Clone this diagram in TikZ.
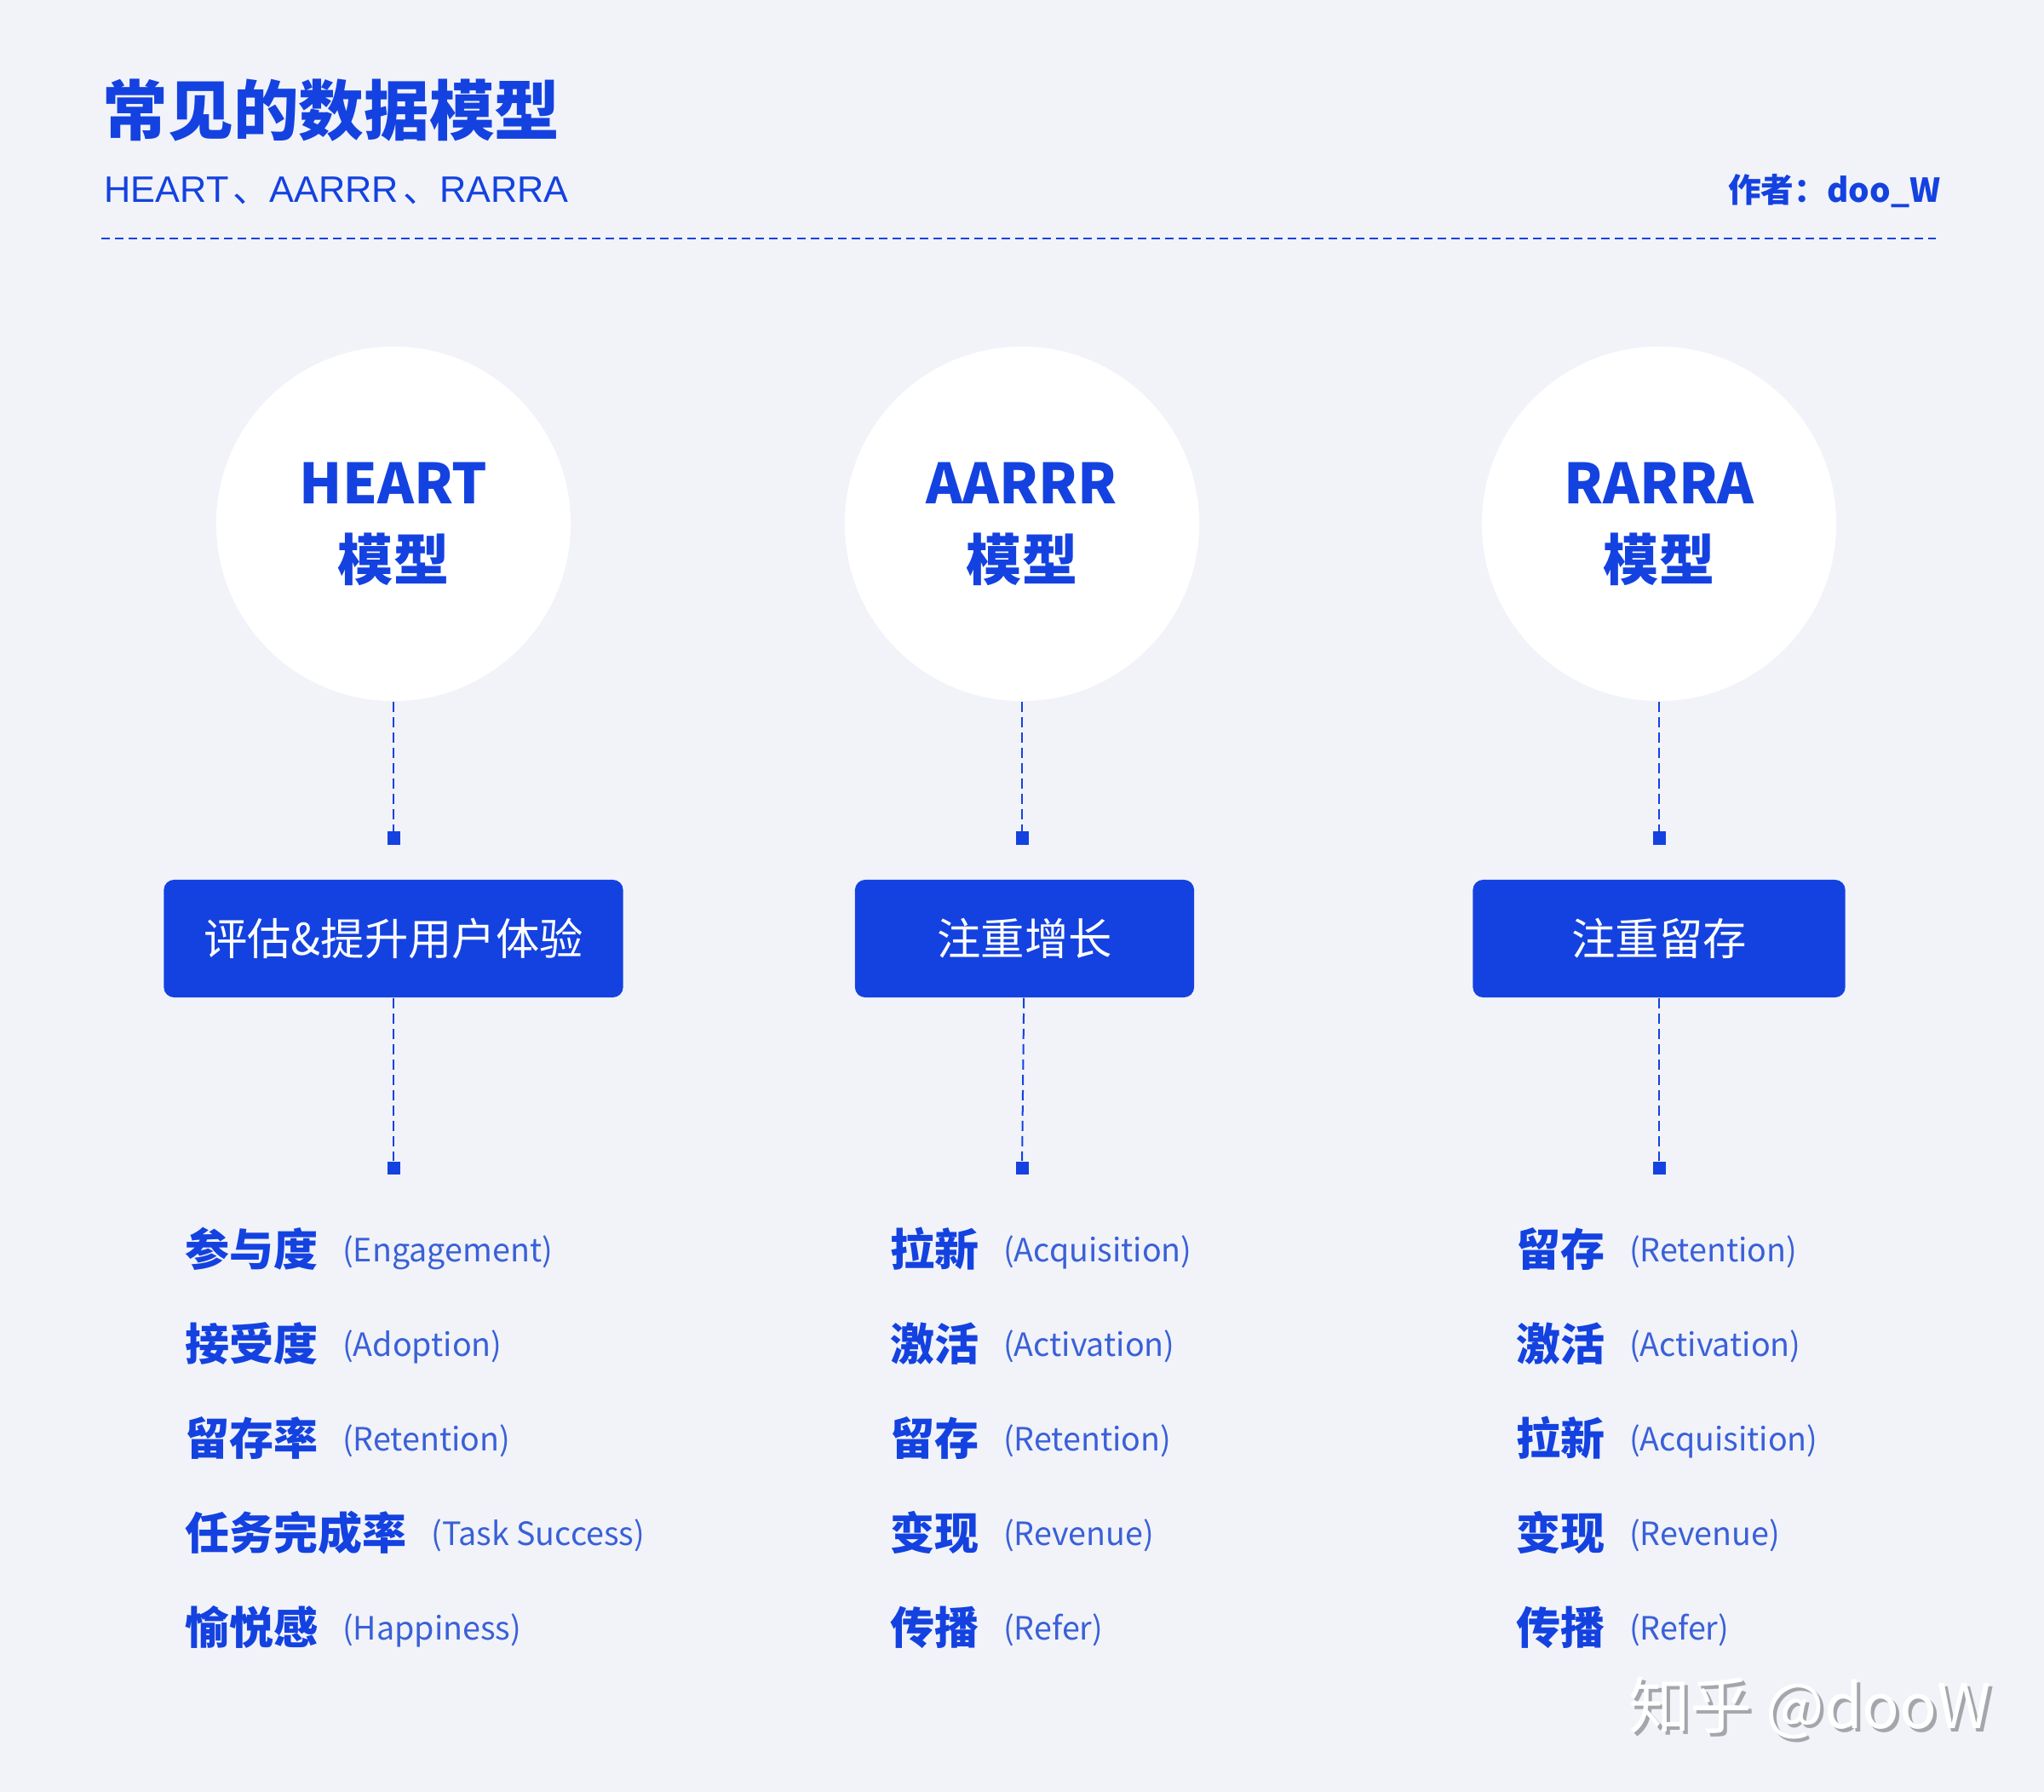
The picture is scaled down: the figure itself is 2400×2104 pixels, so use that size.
\documentclass[tikz,border=0pt]{standalone}
\usepackage{fontspec}
\setmainfont{Noto Sans CJK SC}
\newfontfamily\latinsans{Liberation Sans}
\usetikzlibrary{positioning}

\definecolor{pagebg}{RGB}{241,243,249}
\definecolor{mainblue}{RGB}{20,66,224}
\definecolor{softblue}{RGB}{58,96,216}
\definecolor{markgray}{RGB}{165,166,172}

\tikzset{
  model/.style={circle, fill=white, minimum size=4.16cm, inner sep=0pt, align=center,
    text=mainblue, font=\fontsize{18.5}{25.6}\selectfont\bfseries},
  focus/.style={fill=mainblue, rounded corners=0.12cm, minimum height=1.38cm,
    text=white, font=\fontsize{14.6}{18}\selectfont},
  dot/.style={fill=mainblue, minimum size=0.15cm, inner sep=0pt},
  link/.style={mainblue, line width=0.02cm, dash pattern=on 0.12cm off 0.06cm},
  zh/.style={inner sep=0pt, text=mainblue, font=\fontsize{14.8}{18}\selectfont\bfseries},
  en/.style={inner sep=0pt, yshift=0.05cm, text=softblue, font=\fontsize{10.7}{14}\selectfont},
}

\begin{document}
\begin{tikzpicture}[x=0.01cm, y=-0.01cm]
\fill[pagebg] (0,0) rectangle (2400,2104);
\useasboundingbox (0,0) rectangle (2400,2104);

% header
\node[inner sep=0pt, anchor=base west, text=mainblue, font=\fontsize{21.8}{26}\selectfont\bfseries] (title) at (120,159) {常见的数据模型};
\node[inner sep=0pt, anchor=base west, text=mainblue, font=\fontsize{12.3}{15}\selectfont] (sub) at (122,238)
  {{\latinsans HEART}\hspace{0.05cm}、{\latinsans AARRR}\hspace{0.05cm}、{\latinsans RARRA}};
\node[inner sep=0pt, anchor=base east, text=mainblue, font=\fontsize{11}{14}\selectfont\bfseries] (author) at (2279,238) {作者：doo\_W};
\coordinate (L) at (119,280);
\coordinate (R) at (2273,280);
\draw[mainblue, line width=0.02cm, dash pattern=on 0.1cm off 0.06cm] (L) -- (R);

% models
\node[model] (heart) at (462,615) {HEART\\模型};
\node[model] (aarrr) at (1200,615) {AARRR\\模型};
\node[model] (rarra) at (1948,615) {RARRA\\模型};

\node[dot] (heart1) at (462,984) {};
\node[dot] (aarrr1) at (1200,984) {};
\node[dot] (rarra1) at (1948,984) {};

\node[focus, minimum width=5.39cm] (heartbox) at (462,1102) {评估\&提升用户体验};
\node[focus, minimum width=3.98cm] (aarrrbox) at (1203,1102) {注重增长};
\node[focus, minimum width=4.37cm] (rarrabox) at (1948,1102) {注重留存};

\node[dot] (heart2) at (462,1371) {};
\node[dot] (aarrr2) at (1200,1371) {};
\node[dot] (rarra2) at (1948,1371) {};

\draw[link] (heart) -- (heart1);
\draw[link] (aarrr) -- (aarrr1);
\draw[link] (rarra) -- (rarra1);
\draw[link] (heartbox) -- (heart2);
\draw[link] (aarrrbox) -- (aarrr2);
\draw[link] (rarrabox) -- (rarra2);

% HEART items
\node[zh, anchor=base west] (h1) at (217,1486) {参与度};
\node[en, base right=0.27cm of h1] (h1e) {(Engagement)};
\node[zh, anchor=base west] (h2) at (217,1597) {接受度};
\node[en, base right=0.27cm of h2] (h2e) {(Adoption)};
\node[zh, anchor=base west] (h3) at (217,1708) {留存率};
\node[en, base right=0.27cm of h3] (h3e) {(Retention)};
\node[zh, anchor=base west] (h4) at (217,1819) {任务完成率};
\node[en, base right=0.27cm of h4] (h4e) {(Task Success)};
\node[zh, anchor=base west] (h5) at (217,1930) {愉悦感};
\node[en, base right=0.27cm of h5] (h5e) {(Happiness)};

% AARRR items
\node[zh, anchor=base west] (a1) at (1045,1486) {拉新};
\node[en, base right=0.27cm of a1] (a1e) {(Acquisition)};
\node[zh, anchor=base west] (a2) at (1045,1597) {激活};
\node[en, base right=0.27cm of a2] (a2e) {(Activation)};
\node[zh, anchor=base west] (a3) at (1045,1708) {留存};
\node[en, base right=0.27cm of a3] (a3e) {(Retention)};
\node[zh, anchor=base west] (a4) at (1045,1819) {变现};
\node[en, base right=0.27cm of a4] (a4e) {(Revenue)};
\node[zh, anchor=base west] (a5) at (1045,1930) {传播};
\node[en, base right=0.27cm of a5] (a5e) {(Refer)};

% RARRA items
\node[zh, anchor=base west] (r1) at (1780,1486) {留存};
\node[en, base right=0.27cm of r1] (r1e) {(Retention)};
\node[zh, anchor=base west] (r2) at (1780,1597) {激活};
\node[en, base right=0.27cm of r2] (r2e) {(Activation)};
\node[zh, anchor=base west] (r3) at (1780,1708) {拉新};
\node[en, base right=0.27cm of r3] (r3e) {(Acquisition)};
\node[zh, anchor=base west] (r4) at (1780,1819) {变现};
\node[en, base right=0.27cm of r4] (r4e) {(Revenue)};
\node[zh, anchor=base west] (r5) at (1780,1930) {传播};
\node[en, base right=0.27cm of r5] (r5e) {(Refer)};

% watermark
\node[inner sep=0pt, anchor=base east, text=markgray, font=\fontsize{20.6}{24}\selectfont] (markshadow) at (2343,2033) {知乎 @dooW};
\node[inner sep=0pt, anchor=base east, text=white, font=\fontsize{20.6}{24}\selectfont] (mark) at (2339,2029) {知乎 @dooW};
\end{tikzpicture}
\end{document}
